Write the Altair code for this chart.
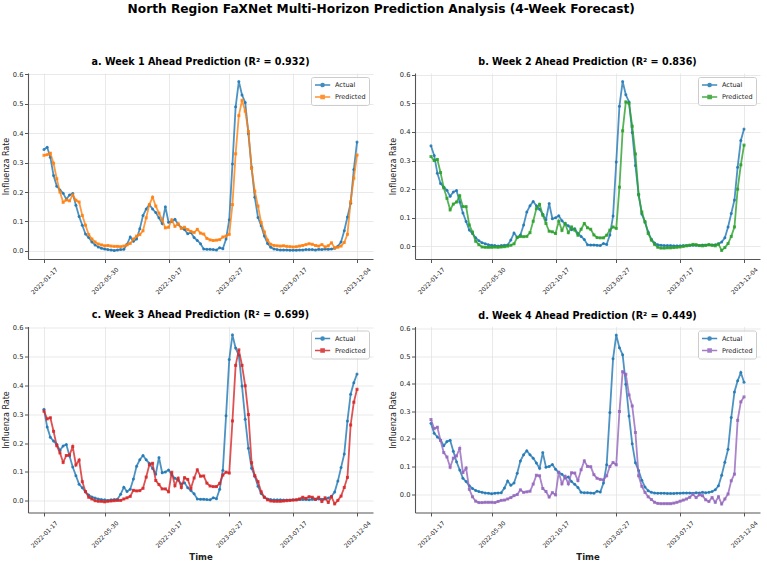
import altair as alt
import pandas as pd

# ---------------- data ----------------
START_DATE = "2022-01-17"
N_WEEKS = 99
TICK_DATES = ["2022-01-17", "2022-05-30", "2022-10-17", "2023-02-27", "2023-07-17", "2023-12-04"]
X_DOMAIN = ["2021-12-13", "2024-01-08"]
Y_TICKS = [0.0, 0.1, 0.2, 0.3, 0.4, 0.5, 0.6]
SERIES = ["Actual", "Predicted"]

# observed influenza rate; the target of horizon h starts h-1 weeks later
OBSERVED_RATE = [
    0.345, 0.352, 0.318, 0.256, 0.220, 0.207, 0.196, 0.175, 0.190, 0.195,
    0.155, 0.117, 0.087, 0.057, 0.045, 0.030, 0.020, 0.013, 0.009, 0.006,
    0.004, 0.003, 0.001, 0.003, 0.004, 0.005, 0.022, 0.047, 0.032, 0.040,
    0.075, 0.120, 0.142, 0.157, 0.142, 0.130, 0.112, 0.093, 0.150, 0.097,
    0.100, 0.107, 0.090, 0.078, 0.072, 0.058, 0.062, 0.045, 0.035, 0.024,
    0.006, 0.005, 0.005, 0.004, 0.003, 0.010, 0.007, 0.040, 0.106, 0.295,
    0.490, 0.576, 0.530, 0.505, 0.398, 0.283, 0.182, 0.113, 0.085, 0.050,
    0.025, 0.012, 0.006, 0.004, 0.003, 0.003, 0.003, 0.002, 0.002, 0.002,
    0.003, 0.003, 0.004, 0.004, 0.004, 0.003, 0.005, 0.004, 0.006, 0.005,
    0.006, 0.009, 0.015, 0.030, 0.068, 0.115, 0.162, 0.277, 0.370, 0.410,
    0.440, 0.405,
]

PRED_W1 = [
    0.325, 0.327, 0.332, 0.298, 0.245, 0.200, 0.165, 0.173, 0.170, 0.190,
    0.172, 0.166, 0.120, 0.087, 0.055, 0.040, 0.030, 0.023, 0.020, 0.017,
    0.018, 0.016, 0.015, 0.015, 0.014, 0.016, 0.020, 0.025, 0.040, 0.050,
    0.055, 0.068, 0.112, 0.157, 0.182, 0.152, 0.128, 0.105, 0.078, 0.080,
    0.105, 0.083, 0.092, 0.076, 0.080, 0.072, 0.066, 0.062, 0.073, 0.060,
    0.057, 0.042, 0.037, 0.035, 0.036, 0.038, 0.047, 0.050, 0.056, 0.157,
    0.330, 0.460, 0.512, 0.475, 0.406, 0.280, 0.203, 0.152, 0.096, 0.064,
    0.036, 0.022, 0.018, 0.017, 0.016, 0.017, 0.015, 0.014, 0.013, 0.014,
    0.016, 0.018, 0.021, 0.024, 0.022, 0.018, 0.016, 0.021, 0.013, 0.017,
    0.027, 0.010, 0.012, 0.016, 0.028, 0.056, 0.167, 0.247, 0.326,
]

PRED_W2 = [
    0.314, 0.300, 0.304, 0.258, 0.205, 0.168, 0.128, 0.148, 0.155, 0.177,
    0.139, 0.139, 0.075, 0.050, 0.018, 0.006, -0.002, -0.003, -0.003, -0.003,
    -0.002, -0.003, -0.002, -0.001, 0.001, 0.004, 0.009, 0.031, 0.035, 0.034,
    0.035, 0.048, 0.088, 0.132, 0.147, 0.109, 0.080, 0.053, 0.051, 0.045,
    0.088, 0.056, 0.080, 0.048, 0.068, 0.057, 0.039, 0.060, 0.080, 0.065,
    0.060, 0.040, 0.031, 0.030, 0.030, 0.039, 0.057, 0.068, 0.063, 0.207,
    0.404, 0.505, 0.500, 0.420, 0.323, 0.180, 0.120, 0.086, 0.045, 0.022,
    0.007, -0.003, -0.006, -0.006, -0.005, -0.005, -0.004, -0.003, -0.002, 0.000,
    0.002, 0.004, 0.007, 0.006, 0.003, 0.002, 0.004, 0.006, 0.004, 0.002,
    0.008, -0.014, -0.004, 0.010, 0.035, 0.068, 0.200, 0.285, 0.354,
]

PRED_W3 = [
    0.311, 0.284, 0.288, 0.241, 0.191, 0.166, 0.133, 0.157, 0.159, 0.188,
    0.124, 0.141, 0.066, 0.032, 0.012, 0.006, 0.000, -0.002, -0.002, -0.004,
    -0.002, -0.001, 0.000, 0.001, 0.001, 0.006, 0.010, 0.015, 0.036, 0.034,
    0.035, 0.043, 0.082, 0.125, 0.130, 0.070, 0.056, 0.041, 0.041, 0.031,
    0.099, 0.052, 0.078, 0.046, 0.080, 0.074, 0.043, 0.079, 0.107, 0.085,
    0.086, 0.061, 0.051, 0.049, 0.049, 0.060, 0.089, 0.099, 0.096, 0.277,
    0.470, 0.524, 0.470, 0.399, 0.299, 0.132, 0.087, 0.066, 0.031, 0.012,
    0.003, -0.001, -0.002, -0.002, -0.002, -0.001, 0.000, 0.001, 0.002, 0.003,
    0.006, 0.012, 0.008, 0.014, 0.012, 0.005, 0.012, -0.003, 0.010, -0.006,
    0.014, -0.011, 0.001, 0.016, 0.046, 0.081, 0.263, 0.342, 0.387,
]

PRED_W4 = [
    0.270, 0.237, 0.242, 0.194, 0.150, 0.134, 0.097, 0.130, 0.138, 0.165,
    0.078, 0.094, 0.017, -0.010, -0.026, -0.031, -0.031, -0.030, -0.030, -0.030,
    -0.031, -0.027, -0.023, -0.022, -0.018, -0.013, -0.006, -0.002, 0.015, 0.006,
    0.008, 0.010, 0.036, 0.068, 0.066, 0.020, 0.009, -0.011, 0.005, -0.003,
    0.079, 0.037, 0.064, 0.037, 0.077, 0.076, 0.049, 0.088, 0.120, 0.100,
    0.099, 0.070, 0.057, 0.053, 0.051, 0.066, 0.100, 0.114, 0.106, 0.299,
    0.443, 0.434, 0.359, 0.319, 0.223, 0.066, 0.028, 0.006, -0.010, -0.020,
    -0.030, -0.034, -0.035, -0.035, -0.035, -0.035, -0.033, -0.030, -0.026, -0.022,
    -0.018, -0.012, -0.001, -0.013, -0.003, -0.006, -0.021, -0.027, -0.013, -0.030,
    -0.010, -0.036, -0.018, 0.000, 0.048, 0.072, 0.267, 0.334, 0.352,
]

PREDICTIONS = [PRED_W1, PRED_W2, PRED_W3, PRED_W4]
TITLES = [
    "a. Week 1 Ahead Prediction (R² = 0.932)",
    "b. Week 2 Ahead Prediction (R² = 0.836)",
    "c. Week 3 Ahead Prediction (R² = 0.699)",
    "d. Week 4 Ahead Prediction (R² = 0.449)",
]
ACTUAL_COLOR = "#1f77b4"
PRED_COLORS = ["#ff7f0e", "#2ca02c", "#d62728", "#9467bd"]
Y_DOMAINS = [[-0.028, 0.605], [-0.044, 0.606], [-0.041, 0.605], [-0.067, 0.607]]
SUPTITLE = "North Region FaXNet Multi-Horizon Prediction Analysis (4-Week Forecast)"

# legend symbols: a short line with a marker in its middle (symbol box is [-1, 1])
LEG_CIRCLE = "M-1,0L2.8,0M1.28,0A0.38,0.38,0,1,1,0.52,0A0.38,0.38,0,1,1,1.28,0Z"
LEG_SQUARE = "M-1,0L2.8,0M0.52,-0.38L1.28,-0.38L1.28,0.38L0.52,0.38Z"

FONT = "DejaVu Sans"
DATES = pd.date_range(START_DATE, periods=N_WEEKS, freq="7D").strftime("%Y-%m-%d").tolist()


def dt(s):
    y, m, d = (int(v) for v in s.split("-"))
    return alt.DateTime(year=y, month=m, date=d, utc=True)


def make_panel(i, bottom):
    actual = OBSERVED_RATE[i:i + N_WEEKS]
    pred = PREDICTIONS[i]
    df = pd.DataFrame({
        "date": DATES + DATES,
        "series": ["Actual"] * N_WEEKS + ["Predicted"] * N_WEEKS,
        "rate": actual + pred,
    })
    base = alt.Chart(df)
    x = alt.X(
        "date:T",
        scale=alt.Scale(type="utc", domain=[dt(X_DOMAIN[0]), dt(X_DOMAIN[1])]),
        axis=alt.Axis(
            values=[dt(t) for t in TICK_DATES],
            labelExpr="utcFormat(datum.value, '%Y-%m-%d')",
            labelAngle=-45,
            labelAlign="center",
            labelBaseline="middle",
            labelPadding=18,
            labelFontSize=6,
            labelOverlap=False,
            labelFlush=False,
            titleFontWeight="bold",
            titleFontSize=8.5,
            titlePadding=4,
        ),
        title="Time" if bottom else None,
    )
    y = alt.Y(
        "rate:Q",
        scale=alt.Scale(domain=Y_DOMAINS[i], nice=False, zero=False),
        axis=alt.Axis(values=Y_TICKS, format=".1f", labelPadding=1.5, titlePadding=2),
        title="Influenza Rate",
    )
    colors = [ACTUAL_COLOR, PRED_COLORS[i]]

    layers = []
    for name, shape, col in (("Actual", "circle", colors[0]), ("Predicted", "square", colors[1])):
        sub = base.transform_filter(alt.datum.series == name)
        layers.append(sub.mark_line(strokeWidth=1.8, opacity=0.8, color=col).encode(x=x, y=y))
        layers.append(
            sub.mark_point(shape=shape, filled=True, size=9, opacity=0.85, color=col).encode(x=x, y=y)
        )
    legend_layer = base.transform_filter("false").mark_point(
        filled=False, strokeWidth=1.8, size=64, opacity=0.85
    ).encode(
        x=x,
        y=y,
        color=alt.Color(
            "series:N", scale=alt.Scale(domain=SERIES, range=colors), legend=alt.Legend(title=None)
        ),
        shape=alt.Shape(
            "series:N",
            scale=alt.Scale(domain=SERIES, range=[LEG_CIRCLE, LEG_SQUARE]),
            legend=alt.Legend(title=None),
        ),
    )
    layers.append(legend_layer)
    return alt.layer(*layers).properties(
        width=345,
        height=186,
        title=alt.TitleParams(
            TITLES[i], fontSize=9.6, fontWeight="bold", font=FONT, frame="group", anchor="middle", offset=5
        ),
    )


row1 = alt.hconcat(make_panel(0, False), make_panel(1, False), spacing=16).resolve_scale(
    color="independent", shape="independent"
)
row2 = alt.hconcat(make_panel(2, True), make_panel(3, True), spacing=16).resolve_scale(
    color="independent", shape="independent"
)

chart = (
    alt.vconcat(row1, row2, spacing=14.5)
    .resolve_scale(color="independent", shape="independent")
    .properties(
        title=alt.TitleParams(SUPTITLE, fontSize=12.2, fontWeight="bold", font=FONT, anchor="middle", offset=41.5),
        padding={"left": 2, "top": 3, "right": 4, "bottom": 0},
    )
    .configure(font=FONT)
    .configure_view(stroke=None)
    .configure_axis(
        labelFont=FONT,
        titleFont=FONT,
        labelFontSize=6.7,
        titleFontSize=8,
        titleFontWeight="normal",
        labelColor="#222222",
        titleColor="#222222",
        gridColor="#e3e3e3",
        gridWidth=0.8,
        domainColor="#555555",
        domainWidth=1.1,
        tickColor="#555555",
        tickSize=3.5,
    )
    .configure_legend(
        orient="top-right",
        offset=4,
        padding=3,
        rowPadding=2,
        fillColor="rgba(255,255,255,0.8)",
        strokeColor="#cccccc",
        cornerRadius=2,
        labelFont=FONT,
        labelFontSize=6.5,
        labelColor="#222222",
        labelOffset=11,
        symbolStrokeWidth=1.6,
        symbolSize=64,
        symbolOpacity=0.85,
    )
)

chart.save("out.html", embed_options={"renderer": "svg", "actions": False})
